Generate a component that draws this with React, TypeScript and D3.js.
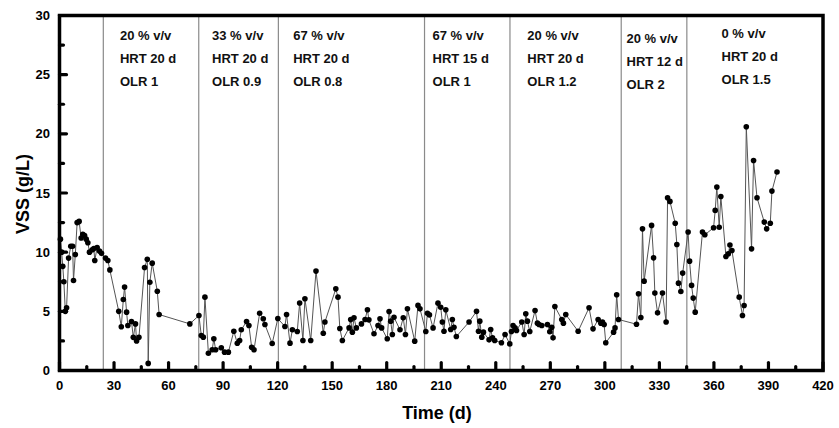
import React from "react";
import * as d3 from "d3";

const timeDays = [
  0.5, 1.2, 1.8, 2.4, 3.2, 3.9, 5.0, 6.2, 7.2, 7.7, 8.7, 9.7, 10.8, 11.9, 12.8, 13.8, 14.7, 15.6, 16.5, 18.0,
  18.9, 19.4, 20.7, 22.0, 23.1, 25.3, 26.6, 27.7, 32.6, 34.0, 35.1, 35.8, 36.9, 37.6, 39.6, 40.6, 41.8, 42.4,
  43.7, 46.8, 48.3, 48.8, 49.7, 51.0, 53.8, 54.8, 71.7, 76.7, 78.0, 79.1, 80.0, 81.9, 84.0, 84.9, 85.9, 89.0,
  90.8, 92.9, 95.9, 97.8, 99.1, 100.0, 102.9, 104.2, 105.7, 107.0, 110.1, 112.1, 113.0, 117.0, 120.1, 124.0,
  124.9, 126.8, 128.1, 130.8, 132.1, 133.9, 135.0, 138.2, 141.1, 145.1, 146.0, 152.0, 153.2, 154.2, 155.6,
  159.3, 160.2, 161.1, 162.0, 163.3, 166.1, 168.1, 169.4, 170.2, 173.0, 175.2, 176.3, 177.2, 180.3, 181.3,
  182.2, 183.1, 184.0, 187.3, 189.1, 190.3, 191.4, 195.4, 197.2, 198.3, 201.5, 202.4, 203.5, 205.5, 208.2,
  209.7, 210.6, 211.5, 212.5, 215.2, 216.1, 217.0, 218.3, 225.3, 229.4, 230.5, 231.2, 232.3, 233.2, 236.3,
  237.2, 238.2, 239.4, 243.1, 245.1, 247.7, 248.6, 249.5, 250.6, 251.4, 254.3, 255.6, 256.5, 257.4, 258.7,
  261.6, 262.9, 263.8, 265.3, 268.4, 269.7, 270.8, 271.5, 272.5, 276.3, 277.2, 278.5, 285.3, 291.3, 293.5,
  296.3, 297.8, 298.7, 299.6, 300.5, 304.8, 305.6, 306.5, 307.5, 317.4, 318.5, 319.8, 320.7, 321.6, 325.7,
  326.8, 327.5, 329.0, 331.7, 333.7, 334.5, 335.8, 338.7, 339.6, 340.5, 341.8, 342.8, 345.8, 346.6, 347.7,
  348.6, 349.7, 353.7, 355.0, 359.8, 360.7, 361.6, 362.9, 363.8, 366.6, 367.9, 368.8, 369.9, 373.9, 375.7,
  376.6, 377.8, 380.7, 381.8, 383.7, 387.7, 389.0, 391.0, 391.9, 394.7,
];

const vssValues = [
  11.1, 10.0, 8.8, 7.5, 5.0, 5.3, 9.5, 10.5, 10.5, 7.6, 9.8, 12.5, 12.6, 11.2, 11.5, 11.4, 11.1, 10.8, 10.0, 10.2,
  10.3, 9.3, 10.4, 10.1, 9.9, 9.5, 9.3, 8.5, 5.0, 3.7, 6.0, 7.05, 4.93, 3.8, 4.14, 2.8, 3.94, 2.5,
  2.8, 8.7, 9.4, 0.6, 7.46, 9.07, 6.7, 4.73, 3.94, 4.65, 2.96, 2.82, 6.2, 1.46, 1.75, 2.68, 1.75, 1.92,
  1.55, 1.55, 3.32, 2.3, 2.54, 3.44, 4.14, 3.8, 1.97, 1.75, 4.84, 4.37, 3.89, 2.28, 4.39, 3.72,
  4.73, 2.31, 3.44, 3.3, 5.7, 2.54, 6.06, 2.54, 8.4, 3.15, 4.1, 6.9, 6.2, 3.55, 2.54,
  3.6, 4.3, 3.24, 4.46, 3.6, 3.94, 4.31, 5.13, 4.28, 3.1, 3.8, 4.37, 3.6, 2.68, 4.99,
  4.17, 3.04, 4.5, 3.44, 4.46, 3.04, 5.21, 2.48, 5.5, 5.21, 3.3, 4.84, 4.7, 3.6, 5.69,
  5.35, 4.1, 3.32, 5.13, 3.47, 4.31, 3.66, 2.87, 4.1, 5.0, 3.32, 4.17, 2.82, 3.24, 2.59,
  3.47, 2.76, 2.54, 2.34, 3.04, 2.25, 3.3, 3.8, 3.6, 3.38, 4.1, 3.04, 4.79, 4.17, 3.3,
  5.07, 4.0, 3.89, 3.8, 3.89, 3.27, 3.66, 2.76, 5.41, 4.31, 4.0, 4.73, 3.32, 5.3, 3.52,
  4.31, 4.0, 4.1, 3.89, 2.34, 3.24, 3.6, 6.4, 4.31, 3.91, 6.48, 4.48, 11.97, 7.55, 12.26,
  9.52, 6.54, 4.87, 6.54, 4.1, 14.6, 14.29, 12.45, 10.65, 7.38, 6.68, 8.23, 11.7, 9.24, 7.19,
  6.12, 4.93, 11.7, 11.47, 12.06, 13.53, 15.5, 12.1, 14.7, 9.64, 9.86, 10.6, 10.14, 6.2, 4.65,
  5.49, 20.6, 10.28, 17.75, 14.6, 12.54, 11.97, 12.45, 15.16, 16.77,
];

const phaseBoundaries = [24.1, 76.6, 120.4, 200.8, 247.8, 309.0, 345.1];

const phaseStartDays = [24.1, 76.6, 120.4, 200.8, 247.8, 309.0, 345.1];
const phaseLine1 = ["20 % v/v", "33 % v/v", "67 % v/v", "67 % v/v", "20 % v/v", "20 % v/v", "0 % v/v"];
const phaseLine2 = ["HRT 20 d", "HRT 20 d", "HRT 20 d", "HRT 15 d", "HRT 20 d", "HRT 12 d", "HRT 20 d"];
const phaseLine3 = ["OLR 1", "OLR 0.9", "OLR 0.8", "OLR 1", "OLR 1.2", "OLR 2", "OLR 1.5"];

const xMajorTicks = d3.range(0, 421, 30);
const xMinorTicks = d3.range(15, 420, 30);
const yMajorTicks = d3.range(0, 31, 5);
const yMinorTicks = d3.range(2.5, 30, 5);

export default function App() {
  const W = 839;
  const H = 428;
  const x = d3.scaleLinear().domain([0, 420]).range([59.5, 823]);
  const y = d3.scaleLinear().domain([0, 30]).range([370.5, 15.5]);
  const pts = timeDays.map((d, i) => [d, vssValues[i]] as [number, number]);
  const line = d3
    .line<[number, number]>()
    .x((d) => x(d[0]))
    .y((d) => y(d[1]));
  const font = "'Liberation Sans', Arial, Helvetica, sans-serif";
  const labelDy = [0, 0, 0, 0, 0, 2.5, -2.5];
  const labelDx = [16.6, 13.3, 14.8, 8, 17.4, 5.3, 34.7];

  return (
    <svg
      width={W}
      height={H}
      style={{ position: "absolute", left: 0, top: 0, background: "#fff" }}
      fontFamily={font}
    >
      <rect x={0} y={0} width={W} height={H} fill="#fff" />
      {phaseBoundaries.map((d, i) => (
        <line key={"pb" + i} x1={x(d)} x2={x(d)} y1={y(30)} y2={y(0)} stroke="#8a8a8a" strokeWidth={1.2} />
      ))}
      {phaseStartDays.map((d, i) => (
        <g key={"pl" + i} fontSize={13} fontWeight="bold" fill="#111">
          <text x={x(d) + labelDx[i]} y={40 + labelDy[i]}>{phaseLine1[i]}</text>
          <text x={x(d) + labelDx[i]} y={63 + labelDy[i]}>{phaseLine2[i]}</text>
          <text x={x(d) + labelDx[i]} y={86 + labelDy[i]}>{phaseLine3[i]}</text>
        </g>
      ))}
      <path d={line(pts) || ""} fill="none" stroke="#555" strokeWidth={1} />
      {pts.map((p, i) => (
        <circle key={"c" + i} cx={x(p[0])} cy={y(p[1])} r={2.8} fill="#000" />
      ))}
      {xMajorTicks.map((t) => (
        <line key={"xM" + t} x1={x(t)} x2={x(t)} y1={y(0)} y2={y(0) - 8} stroke="#000" strokeWidth={3.2} strokeLinecap="round" />
      ))}
      {xMinorTicks.map((t) => (
        <line key={"xm" + t} x1={x(t)} x2={x(t)} y1={y(0)} y2={y(0) - 4} stroke="#000" strokeWidth={3.2} strokeLinecap="round" />
      ))}
      {yMajorTicks.map((t) => (
        <line key={"yM" + t} x1={x(0)} x2={x(0) + 7} y1={y(t)} y2={y(t)} stroke="#000" strokeWidth={3.2} strokeLinecap="round" />
      ))}
      {yMinorTicks.map((t) => (
        <line key={"ym" + t} x1={x(0)} x2={x(0) + 4} y1={y(t)} y2={y(t)} stroke="#000" strokeWidth={3.2} strokeLinecap="round" />
      ))}
      <rect
        x={x(0)}
        y={y(30)}
        width={x(420) - x(0)}
        height={y(0) - y(30)}
        fill="none"
        stroke="#000"
        strokeWidth={3.5}
      />
      {xMajorTicks.map((t) => (
        <text key={"xl" + t} x={x(t)} y={390} textAnchor="middle" fontSize={13} fontWeight="bold" fill="#000">
          {t}
        </text>
      ))}
      {yMajorTicks.map((t) => (
        <text key={"yl" + t} x={50} y={y(t) + 4.5} textAnchor="end" fontSize={13} fontWeight="bold" fill="#000">
          {t}
        </text>
      ))}
      <text x={437} y={419} textAnchor="middle" fontSize={18} fontWeight="bold" fill="#000">
        Time (d)
      </text>
      <text
        transform={`translate(28.5, ${194}) rotate(-90)`}
        textAnchor="middle"
        fontSize={18}
        fontWeight="bold"
        fill="#000"
      >
        VSS (g/L)
      </text>
    </svg>
  );
}
